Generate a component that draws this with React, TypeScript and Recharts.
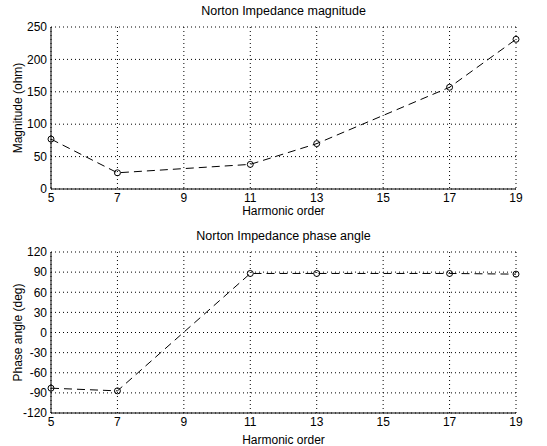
import { LineChart, Line, XAxis, YAxis, CartesianGrid } from 'recharts';

const harmonics = [5, 7, 11, 13, 17, 19];
const magnitude = [77, 25, 38, 70, 157, 231];
const phase = [-83, -87, 88, 88, 88, 87];

const xTicks = [5, 7, 9, 11, 13, 15, 17, 19];
const magTicks = [0, 50, 100, 150, 200, 250];
const phaseTicks = [-120, -90, -60, -30, 0, 30, 60, 90, 120];

const magData = harmonics.map((h, i) => ({ h, v: magnitude[i] }));
const phaseData = harmonics.map((h, i) => ({ h, v: phase[i] }));

const font = '"Liberation Sans", Arial, sans-serif';
const tick = { fill: '#000', fontSize: 12, fontFamily: font };

function Panel({ data, ticks, domain, yLabel, title, top, height, mTop, mBottom, labelOffset }: any) {
  return (
    <div style={{ position: 'absolute', left: 0, top, width: 547, height }}>
      <div style={{ position: 'absolute', left: 51, width: 465, top: mTop - 23, textAlign: 'center', fontFamily: font, fontSize: 12.5, color: '#000' }}>
        {title}
      </div>
      <LineChart width={547} height={height} data={data} margin={{ top: mTop, right: 31, left: 0, bottom: 0 }}>
        <CartesianGrid stroke="#000" strokeDasharray="1 3" />
        <XAxis
          dataKey="h"
          type="number"
          domain={[5, 19]}
          ticks={xTicks}
          interval={0}
          tickLine={false}
          tickSize={2}
          height={mBottom}
          axisLine={{ stroke: '#000' }}
          tick={tick}
          label={{ value: 'Harmonic order', position: 'insideBottom', offset: labelOffset, style: { fill: '#000', fontSize: 12, fontFamily: font } }}
        />
        <XAxis xAxisId="top" orientation="top" dataKey="h" type="number" domain={[5, 19]} height={0} tick={false} tickLine={false} axisLine={{ stroke: '#000' }} />
        <YAxis
          type="number"
          domain={domain}
          ticks={ticks}
          interval={0}
          tickLine={false}
          tickSize={2}
          width={51}
          axisLine={{ stroke: '#000' }}
          tick={tick}
          label={{ value: yLabel, angle: -90, position: 'insideLeft', offset: 18, style: { textAnchor: 'middle', fill: '#000', fontSize: 12, fontFamily: font } }}
        />
        <YAxis yAxisId="right" orientation="right" domain={domain} width={0} tick={false} tickLine={false} axisLine={{ stroke: '#000' }} />
        <Line
          dataKey="v"
          stroke="#000"
          strokeWidth={1}
          strokeDasharray="8 5"
          dot={{ r: 3, stroke: '#000', strokeWidth: 1, fill: 'none', strokeDasharray: '' }}
          isAnimationActive={false}
        />
      </LineChart>
    </div>
  );
}

export default function App() {
  return (
    <div style={{ position: 'absolute', left: 0, top: 0, width: 547, height: 446, background: '#fff' }}>
      <Panel data={magData} ticks={magTicks} domain={[0, 250]} yLabel="Magnitude (ohm)" title="Norton Impedance magnitude" top={0} height={220} mTop={27} mBottom={31} labelOffset={5} />
      <Panel data={phaseData} ticks={phaseTicks} domain={[-120, 120]} yLabel="Phase angle (deg)" title="Norton Impedance phase angle" top={220} height={226} mTop={32} mBottom={33} labelOffset={2} />
    </div>
  );
}
